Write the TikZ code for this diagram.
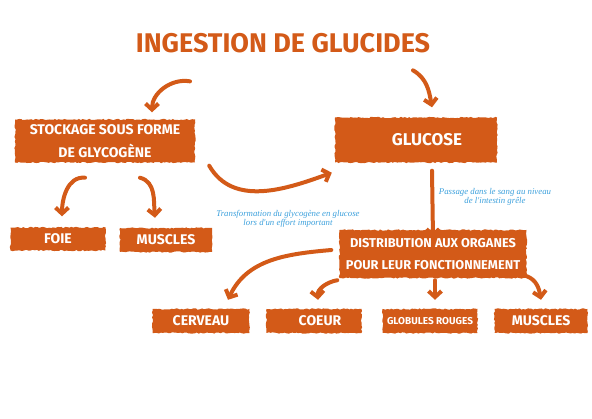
\documentclass[tikz,border=0pt]{standalone}
\usepackage{fontspec}
\newfontfamily\brushfont{Fira Sans}
\newfontfamily\notefont{Liberation Serif}
\usetikzlibrary{arrows.meta,decorations.pathmorphing}
\definecolor{rust}{RGB}{211,90,24}
\definecolor{skyblue}{RGB}{60,160,220}

\begin{document}
\begin{tikzpicture}[x=1pt,y=-1pt,
  brush/.style={fill=rust, decorate, decoration={random steps,segment length=2pt,amplitude=0.7pt},
    minimum height=24pt, inner sep=0pt, text=white, align=center,
    font=\brushfont\bfseries\fontsize{14}{23}\selectfont},
  head/.style={text=rust, font=\brushfont\bfseries\fontsize{27}{30}\selectfont},
  note/.style={text=skyblue, align=center, font=\notefont\itshape\fontsize{8.8}{9.5}\selectfont},
  arr/.style={rust, line width=4pt, line cap=round, -{Straight Barb[length=6pt,width=13pt]}}]
  \useasboundingbox (0,0) rectangle (592,419);
  % title and first level
  \node[head] (title) at (283,43) {INGESTION DE GLUCIDES};
  \node[brush, minimum width=180pt, minimum height=43pt] (stock) at (105,141) {STOCKAGE SOUS FORME\\DE GLYCOGÈNE};
  \node[brush, minimum width=162pt, minimum height=45pt, font=\brushfont\bfseries\fontsize{17}{18}\selectfont] (gluc) at (416,140) {\hspace*{22pt}GLUCOSE};
  \node[brush, minimum width=95pt, minimum height=23pt] (foie) at (58,239) {FOIE};
  \node[brush, minimum width=92pt] (muscg) at (166,240) {MUSCLES};
  \node[brush, minimum width=187pt, minimum height=48pt, font=\brushfont\bfseries\fontsize{12.8}{22}\selectfont] (distr) at (433,254) {DISTRIBUTION AUX ORGANES\\POUR LEUR FONCTIONNEMENT};
  % organs
  \node[brush, minimum width=97pt] (cerv) at (201,321) {CERVEAU};
  \node[brush, minimum width=95pt] (coeur) at (314,321) {\hspace*{12pt}COEUR};
  \node[brush, minimum width=95pt, font=\brushfont\bfseries\fontsize{10}{12}\selectfont] (glob) at (430,321) {GLOBULES ROUGES};
  \node[brush, minimum width=93pt] (muscd) at (541,321) {MUSCLES};
  % notes
  \node[note] (trans) at (288,219) {Transformation du glycogène en glucose\\lors d'un effort important};
  \node[note] (pass) at (495,197) {Passage dans le sang au niveau\\de l'intestin grêle};
  % arrows
  \draw[arr] ([shift={(-93,25)}]title.south) to[out=170,in=90] ([shift={(47,-7)}]stock.north);
  \draw[arr] ([shift={(130,14)}]title.south) to[out=-30,in=100] ([shift={(16,-10)}]gluc.north);
  \draw[arr] ([shift={(-20,15)}]stock.south) to[out=175,in=90] ([shift={(4,-11)}]foie.north);
  \draw[arr] ([shift={(35,15)}]stock.south) to[out=-15,in=95] ([shift={(-11,-10)}]muscg.north);
  \draw[arr] ([shift={(14,3)}]stock.south east) to[out=-60,in=200] ([shift={(-3,10)}]gluc.south west);
  \draw[arr] ([shift={(16,8)}]gluc.south) -- ([yshift=-8]distr.north);
  \draw[arr] ([shift={(-8,-4)}]distr.west) to[out=185,in=65] ([shift={(27,-9)}]cerv.north);
  \draw[arr] ([shift={(-2,2)}]distr.south west) to[out=190,in=95] ([shift={(4,-9)}]coeur.north);
  \draw[arr] ([shift={(2,2)}]distr.south) -- ([shift={(5,-9)}]glob.north);
  \draw[arr] ([shift={(0,-2)}]distr.south east) to[out=-20,in=100] ([shift={(0,-9)}]muscd.north);
\end{tikzpicture}
\end{document}
